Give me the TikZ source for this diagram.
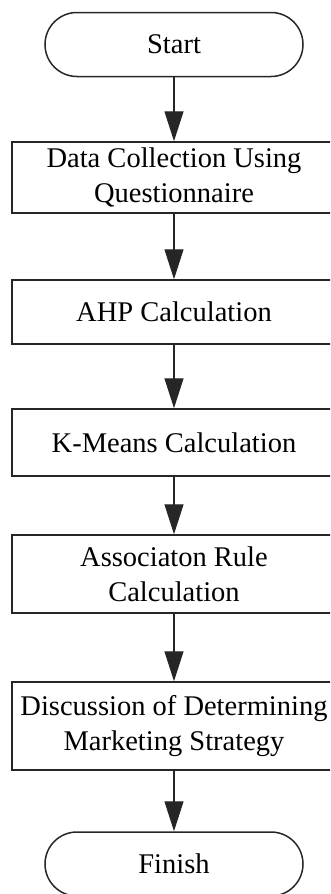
\documentclass[tikz,border=0pt]{standalone}
\usepackage{fontspec}
\setmainfont{Liberation Serif}
\usetikzlibrary{arrows.meta}

\begin{document}
\begin{tikzpicture}[x=1pt, y=-1pt,
        term/.style={draw=black!85, line width=1.5pt, rounded corners=32pt,
            minimum width=258pt, minimum height=64pt, inner sep=0pt},
        stepbox/.style={draw=black!85, line width=1.5pt, minimum width=324pt,
            align=center, inner sep=0pt},
        flow/.style={draw=black!85, line width=1.2pt, -{Triangle[length=30pt, width=19pt]}}]
                \clip (0, 0) rectangle (330, 894);
                \fontsize{28.5pt}{35pt}\selectfont

                %%start and finish
                \node[term] (start) at (174, 44.5){Start};
                \node[term] (finish) at (174, 864){Finish};

                %%steps
                \node[stepbox, minimum height=71pt] (collect) at (174, 177.5){Data Collection Using\\Questionnaire};
                \node[stepbox, minimum height=64pt] (ahp) at (174, 312){AHP Calculation};
                \node[stepbox, minimum height=67pt] (kmeans) at (174, 442.5){K-Means Calculation};
                \node[stepbox, minimum height=78pt] (assoc) at (174, 574){Associaton Rule\\Calculation};
                \node[stepbox, minimum height=88pt] (discuss) at (174, 726){Discussion of Determining\\Marketing Strategy};

                %%arrows
                \draw[flow] (start) to (collect);
                \draw[flow] (collect) to (ahp);
                \draw[flow] (ahp) to (kmeans);
                \draw[flow] (kmeans) to (assoc);
                \draw[flow] (assoc) to (discuss);
                \draw[flow] (discuss) to (finish);
\end{tikzpicture}
\end{document}
